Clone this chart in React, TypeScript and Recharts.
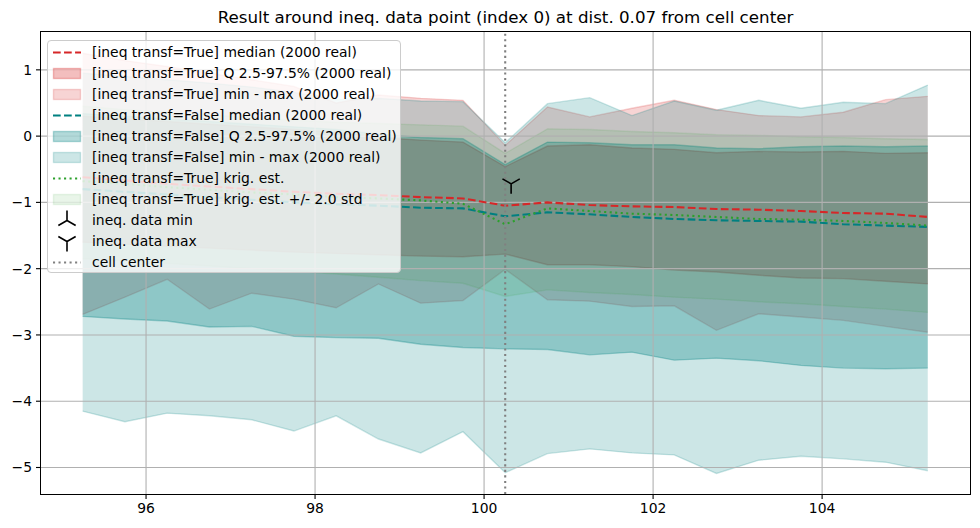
import React from 'react';
import {
  ComposedChart,
  Area,
  Line,
  Scatter,
  XAxis,
  YAxis,
  ReferenceLine,
} from 'recharts';

// x positions of the cells around the ineq. data point
const xValues = [95.25, 95.75, 96.25, 96.75, 97.25, 97.75, 98.25, 98.75, 99.25, 99.75, 100.25, 100.75, 101.25, 101.75, 102.25, 102.75, 103.25, 103.75, 104.25, 104.75, 105.25];

// ineq transf=True
const trueMedian = [-0.62, -0.67, -0.72, -0.76, -0.80, -0.84, -0.87, -0.89, -0.92, -0.94, -1.05, -1.00, -1.04, -1.06, -1.07, -1.10, -1.11, -1.13, -1.16, -1.17, -1.22];
const trueQLow = [-1.60, -1.63, -1.66, -1.69, -1.72, -1.75, -1.77, -1.79, -1.81, -1.82, -1.78, -1.94, -1.94, -1.97, -2.02, -2.05, -2.10, -2.14, -2.15, -2.19, -2.23];
const trueQHigh = [0.30, 0.26, 0.22, 0.18, 0.14, 0.10, 0.06, -0.02, -0.06, -0.09, -0.46, -0.15, -0.13, -0.18, -0.20, -0.25, -0.23, -0.24, -0.23, -0.26, -0.25];
const trueMin = [-2.69, -2.43, -2.16, -2.61, -2.37, -2.46, -2.59, -2.23, -2.52, -2.48, -2.01, -2.47, -2.49, -2.57, -2.56, -2.93, -2.68, -2.73, -2.78, -2.87, -2.96];
const trueMax = [1.25, 1.14, 1.05, 0.95, 0.85, 0.75, 0.50, 0.62, 0.57, 0.54, -0.14, 0.44, 0.29, 0.42, 0.54, 0.40, 0.31, 0.29, 0.36, 0.55, 0.60];

// ineq transf=False
const falseMedian = [-0.80, -0.84, -0.88, -0.92, -0.96, -1.00, -1.03, -1.05, -1.08, -1.09, -1.21, -1.15, -1.18, -1.22, -1.25, -1.27, -1.28, -1.29, -1.33, -1.35, -1.37];
const falseQLow = [-2.72, -2.76, -2.79, -2.88, -2.87, -3.02, -3.04, -3.05, -3.14, -3.19, -3.21, -3.22, -3.30, -3.26, -3.38, -3.35, -3.39, -3.46, -3.50, -3.51, -3.50];
const falseQHigh = [0.34, 0.30, 0.26, 0.22, 0.18, 0.14, 0.10, 0.03, -0.02, -0.04, -0.43, -0.09, -0.10, -0.13, -0.13, -0.18, -0.19, -0.16, -0.15, -0.16, -0.15];
const falseMin = [-4.15, -4.31, -4.18, -4.22, -4.28, -4.45, -4.22, -4.57, -4.78, -4.46, -5.08, -4.79, -4.72, -4.78, -4.81, -5.09, -4.89, -4.83, -4.87, -4.92, -5.05];
const falseMax = [0.95, 0.90, 0.85, 0.80, 0.74, 0.66, 0.55, 0.57, 0.53, 0.52, -0.10, 0.49, 0.58, 0.31, 0.53, 0.39, 0.54, 0.42, 0.51, 0.49, 0.77];

// kriging estimate (ineq transf=True) and +/- 2 std
const krigEst = [-0.68, -0.72, -0.77, -0.81, -0.85, -0.88, -0.92, -0.94, -0.97, -1.02, -1.33, -1.09, -1.13, -1.17, -1.19, -1.22, -1.25, -1.26, -1.28, -1.31, -1.35];
const krigLow = [-1.85, -1.88, -1.92, -1.96, -2.00, -2.04, -2.08, -2.13, -2.18, -2.22, -2.42, -2.32, -2.36, -2.39, -2.43, -2.46, -2.50, -2.53, -2.57, -2.61, -2.66];
const krigHigh = [0.45, 0.40, 0.36, 0.32, 0.28, 0.24, 0.21, 0.19, 0.17, 0.15, -0.26, 0.11, 0.10, 0.07, 0.05, 0.02, 0.01, -0.01, -0.02, -0.04, -0.05];

const ineqDataMax = [{ x: 100.32, y: -0.72 }];
const cellCenter = 100.25;

const xTicks = [96, 98, 100, 102, 104];
const yTicks = [-5, -4, -3, -2, -1, 0, 1];

const RED = '#d62728';
const TEAL = '#008080';
const GREEN = '#2ca02c';
const GREY = '#808080';
const FONT = '"DejaVu Sans", sans-serif';

// matplotlib widths are in points (dpi 100)
const LW = 2.08;
const DASH = '7.7 3.33';
const DOT = '2.08 3.44';

const data = xValues.map((x, i) => ({
  x,
  trueMed: trueMedian[i],
  trueQ: [trueQLow[i], trueQHigh[i]],
  trueMM: [trueMin[i], trueMax[i]],
  falseMed: falseMedian[i],
  falseQ: [falseQLow[i], falseQHigh[i]],
  falseMM: [falseMin[i], falseMax[i]],
  krig: krigEst[i],
  krigBand: [krigLow[i], krigHigh[i]],
}));

const minus = (v: number) => (v < 0 ? '\u2212' + Math.abs(v) : String(v));

const triPath = (cx: number, cy: number, r: number, up: boolean) => {
  const s = up ? -1 : 1;
  const dx = r * 0.866;
  const dy = r * 0.5;
  return `M${cx},${cy} L${cx},${cy + s * r} M${cx},${cy} L${cx - dx},${cy - s * dy} M${cx},${cy} L${cx + dx},${cy - s * dy}`;
};

const TriDown = (props: any) => {
  const { cx, cy } = props;
  return <path d={triPath(cx, cy, 10, false)} stroke="#000" strokeWidth={1.6} fill="none" />;
};

type Handle = { kind: string; color?: string; alpha?: number };

const legendItems: { label: string; handle: Handle }[] = [
  { label: '[ineq transf=True] median (2000 real)', handle: { kind: 'dash', color: RED } },
  { label: '[ineq transf=True] Q 2.5-97.5% (2000 real)', handle: { kind: 'patch', color: RED, alpha: 0.3 } },
  { label: '[ineq transf=True] min - max (2000 real)', handle: { kind: 'patch', color: RED, alpha: 0.2 } },
  { label: '[ineq transf=False] median (2000 real)', handle: { kind: 'dash', color: TEAL } },
  { label: '[ineq transf=False] Q 2.5-97.5% (2000 real)', handle: { kind: 'patch', color: TEAL, alpha: 0.3 } },
  { label: '[ineq transf=False] min - max (2000 real)', handle: { kind: 'patch', color: TEAL, alpha: 0.2 } },
  { label: '[ineq transf=True] krig. est.', handle: { kind: 'dot', color: GREEN } },
  { label: '[ineq transf=True] krig. est. +/- 2.0 std', handle: { kind: 'patch', color: GREEN, alpha: 0.1 } },
  { label: 'ineq. data min', handle: { kind: 'triup' } },
  { label: 'ineq. data max', handle: { kind: 'tridown' } },
  { label: 'cell center', handle: { kind: 'dot', color: GREY } },
];

const renderHandle = (h: Handle) => {
  switch (h.kind) {
    case 'dash':
      return <line x1={0} y1={10.5} x2={28} y2={10.5} stroke={h.color} strokeWidth={LW} strokeDasharray={DASH} />;
    case 'dot':
      return <line x1={0} y1={10.5} x2={28} y2={10.5} stroke={h.color} strokeWidth={LW} strokeDasharray={DOT} />;
    case 'patch':
      return (
        <rect x={0.5} y={5.5} width={27} height={10} fill={h.color} fillOpacity={h.alpha}
          stroke={h.color} strokeOpacity={h.alpha} strokeWidth={1.39} />
      );
    case 'triup':
      return <path d={triPath(14, 10.5, 10, true)} stroke="#000" strokeWidth={1.6} fill="none" />;
    case 'tridown':
      return <path d={triPath(14, 10.5, 10, false)} stroke="#000" strokeWidth={1.6} fill="none" />;
    default:
      return null;
  }
};

export default function App() {
  return (
    <div style={{ position: 'absolute', left: 0, top: 0, width: 980, height: 528, background: '#fff', fontFamily: FONT }}>
      <div
        style={{
          position: 'absolute', left: 41, width: 929, top: 6, lineHeight: '22px',
          textAlign: 'center', fontSize: 16.7, color: '#000',
        }}
      >
        Result around ineq. data point (index 0) at dist. 0.07 from cell center
      </div>
      <ComposedChart width={980} height={528} data={data} margin={{ top: 32, right: 10, bottom: 0, left: 0 }}>
        <XAxis
          dataKey="x"
          type="number"
          domain={[94.757, 105.75]}
          ticks={xTicks}
          allowDataOverflow
          height={34}
          tickSize={5}
          tickMargin={4}
          axisLine={false}
          tickLine={{ stroke: '#000', strokeWidth: 1.1 }}
          tick={{ fill: '#000', fontSize: 13.9, fontFamily: FONT }}
        />
        <YAxis
          type="number"
          domain={[-5.4, 1.571]}
          ticks={yTicks}
          allowDataOverflow
          width={41}
          tickSize={5}
          tickMargin={4}
          axisLine={false}
          tickFormatter={minus}
          tickLine={{ stroke: '#000', strokeWidth: 1.1 }}
          tick={{ fill: '#000', fontSize: 13.9, fontFamily: FONT }}
        />
        <Area dataKey="trueQ" type="linear" fill={RED} fillOpacity={0.3} stroke={RED} strokeOpacity={0.3} strokeWidth={1.39} isAnimationActive={false} />
        <Area dataKey="trueMM" type="linear" fill={RED} fillOpacity={0.2} stroke={RED} strokeOpacity={0.2} strokeWidth={1.39} isAnimationActive={false} />
        <Area dataKey="falseQ" type="linear" fill={TEAL} fillOpacity={0.3} stroke={TEAL} strokeOpacity={0.3} strokeWidth={1.39} isAnimationActive={false} />
        <Area dataKey="falseMM" type="linear" fill={TEAL} fillOpacity={0.2} stroke={TEAL} strokeOpacity={0.2} strokeWidth={1.39} isAnimationActive={false} />
        <Area dataKey="krigBand" type="linear" fill={GREEN} fillOpacity={0.1} stroke={GREEN} strokeOpacity={0.1} strokeWidth={1.39} isAnimationActive={false} />
        {xTicks.map((t) => (
          <ReferenceLine key={'gx' + t} x={t} stroke="#b0b0b0" strokeWidth={1.1} />
        ))}
        {yTicks.map((t) => (
          <ReferenceLine key={'gy' + t} y={t} stroke="#b0b0b0" strokeWidth={1.1} />
        ))}
        <Line dataKey="trueMed" type="linear" stroke={RED} strokeWidth={LW} strokeDasharray={DASH} dot={false} isAnimationActive={false} />
        <Line dataKey="falseMed" type="linear" stroke={TEAL} strokeWidth={LW} strokeDasharray={DASH} dot={false} isAnimationActive={false} />
        <Line dataKey="krig" type="linear" stroke={GREEN} strokeWidth={LW} strokeDasharray={DOT} dot={false} isAnimationActive={false} />
        <Scatter data={ineqDataMax} dataKey="y" shape={TriDown} isAnimationActive={false} />
        <ReferenceLine x={cellCenter} stroke={GREY} strokeWidth={LW} strokeDasharray={DOT} />
      </ComposedChart>
      <div
        style={{
          position: 'absolute', left: 40, top: 31, width: 931, height: 464,
          border: '1px solid #000', boxSizing: 'border-box', pointerEvents: 'none',
        }}
      />
      <div
        style={{
          position: 'absolute', left: 47, top: 40, width: 354, height: 233, boxSizing: 'border-box',
          background: 'rgba(255,255,255,0.8)', border: '1px solid #cccccc', borderRadius: 4,
          paddingTop: 0.5, fontSize: 13.9, color: '#000',
        }}
      >
        {legendItems.map((it) => (
          <div key={it.label} style={{ display: 'flex', alignItems: 'center', height: 21, whiteSpace: 'nowrap' }}>
            <svg width={28} height={21} style={{ marginLeft: 5, marginRight: 11, flex: 'none', overflow: 'visible' }}>
              {renderHandle(it.handle)}
            </svg>
            <span>{it.label}</span>
          </div>
        ))}
      </div>
    </div>
  );
}
